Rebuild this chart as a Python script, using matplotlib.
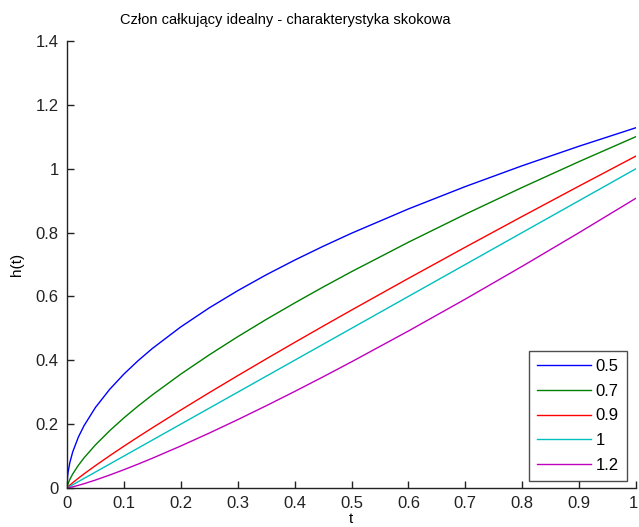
import matplotlib
matplotlib.use("Agg")
import matplotlib.pyplot as plt
import matplotlib.transforms as mtransforms

t = [0, 0.001, 0.002, 0.005, 0.01, 0.02, 0.03, 0.05, 0.075, 0.1, 0.125, 0.15, 0.2, 0.25,
     0.3, 0.35, 0.4, 0.45, 0.5, 0.6, 0.7, 0.8, 0.9, 1.0]
h_05 = [0, 0.0357, 0.0505, 0.0798, 0.1128, 0.1596, 0.1954, 0.2523, 0.3090, 0.3568, 0.3989, 0.4370,
        0.5046, 0.5642, 0.6180, 0.6676, 0.7136, 0.7569, 0.7979, 0.8740, 0.9441, 1.0093, 1.0705, 1.1284]
h_07 = [0, 0.0087, 0.0142, 0.0270, 0.0438, 0.0712, 0.0945, 0.1351, 0.1795, 0.2196, 0.2567, 0.2916,
        0.3567, 0.4170, 0.4738, 0.5278, 0.5794, 0.6293, 0.6775, 0.7697, 0.8574, 0.9414, 1.0223, 1.1005]
h_09 = [0, 0.0021, 0.0039, 0.0088, 0.0165, 0.0307, 0.0443, 0.0701, 0.1010, 0.1309, 0.1600, 0.1885,
        0.2442, 0.2986, 0.3518, 0.4042, 0.4558, 0.5068, 0.5572, 0.6565, 0.7542, 0.8506, 0.9457, 1.0397]
h_10 = [0, 0.001, 0.002, 0.005, 0.01, 0.02, 0.03, 0.05, 0.075, 0.1, 0.125, 0.15,
        0.2, 0.25, 0.3, 0.35, 0.4, 0.45, 0.5, 0.6, 0.7, 0.8, 0.9, 1.0]
h_12 = [0, 0.0002, 0.0005, 0.0016, 0.0036, 0.0083, 0.0135, 0.0249, 0.0406, 0.0573, 0.0749, 0.0932,
        0.1316, 0.1720, 0.2140, 0.2575, 0.3022, 0.3481, 0.3951, 0.4917, 0.5916, 0.6944, 0.7998, 0.9076]
labels = ["0.5", "0.7", "0.9", "1", "1.2"]
colors = ["#0000ff", "#008000", "#ff0000", "#00bfbf", "#bf00bf"]
series = [h_05, h_07, h_09, h_10, h_12]

xticks = [0, 0.1, 0.2, 0.3, 0.4, 0.5, 0.6, 0.7, 0.8, 0.9, 1]
xticklabels = ["0", "0.1", "0.2", "0.3", "0.4", "0.5", "0.6", "0.7", "0.8", "0.9", "1"]
yticks = [0, 0.2, 0.4, 0.6, 0.8, 1.0, 1.2, 1.4]
yticklabels = ["0", "0.2", "0.4", "0.6", "0.8", "1", "1.2", "1.4"]

plt.rcParams['font.family'] = ['Liberation Sans', 'DejaVu Sans']
W, H = 639, 527
fig = plt.figure(figsize=(W/100, H/100), dpi=100)
ax = fig.add_axes([67/W, 1-488/H, (636-67)/W, (488-41)/H])

for ys, lab, c in zip(series, labels, colors):
    ax.plot(t, ys, color=c, lw=1.0, label=lab)

ax.set_xlim(0, 1)
ax.set_ylim(0, 1.4)
ax.set_xticks(xticks)
ax.set_xticklabels(xticklabels)
ax.set_yticks(yticks)
ax.set_yticklabels(yticklabels)
ax.tick_params(direction='in', length=5, width=1, labelsize=12, colors='#222222', pad=6)
last = ax.get_xticklabels()[-1]
last.set_transform(last.get_transform() + mtransforms.ScaledTranslation(-3/100, 0, fig.dpi_scale_trans))
for s in ['top', 'right']:
    ax.spines[s].set_visible(False)
for s in ['left', 'bottom']:
    ax.spines[s].set_linewidth(1.0)
    ax.spines[s].set_color('#222222')

ax.set_ylabel('h(t)', fontsize=11, labelpad=8)
fig.text(351/W, 1-519/H, 't', fontsize=11, ha='center', va='center')
fig.text(285/W, 1-20/H, 'Człon całkujący idealny - charakterystyka skokowa', fontsize=10.5,
         ha='center', va='center')

leg = ax.legend(loc='lower right', bbox_to_anchor=(627/W, 1-481/H), bbox_transform=fig.transFigure,
                fontsize=12, frameon=True, fancybox=False, handlelength=3.2, labelspacing=0.58,
                borderpad=0.5, handletextpad=0.3, borderaxespad=0)
leg.get_frame().set_edgecolor('#222222')
leg.get_frame().set_linewidth(1.0)

fig.savefig('out.png', dpi=100)
